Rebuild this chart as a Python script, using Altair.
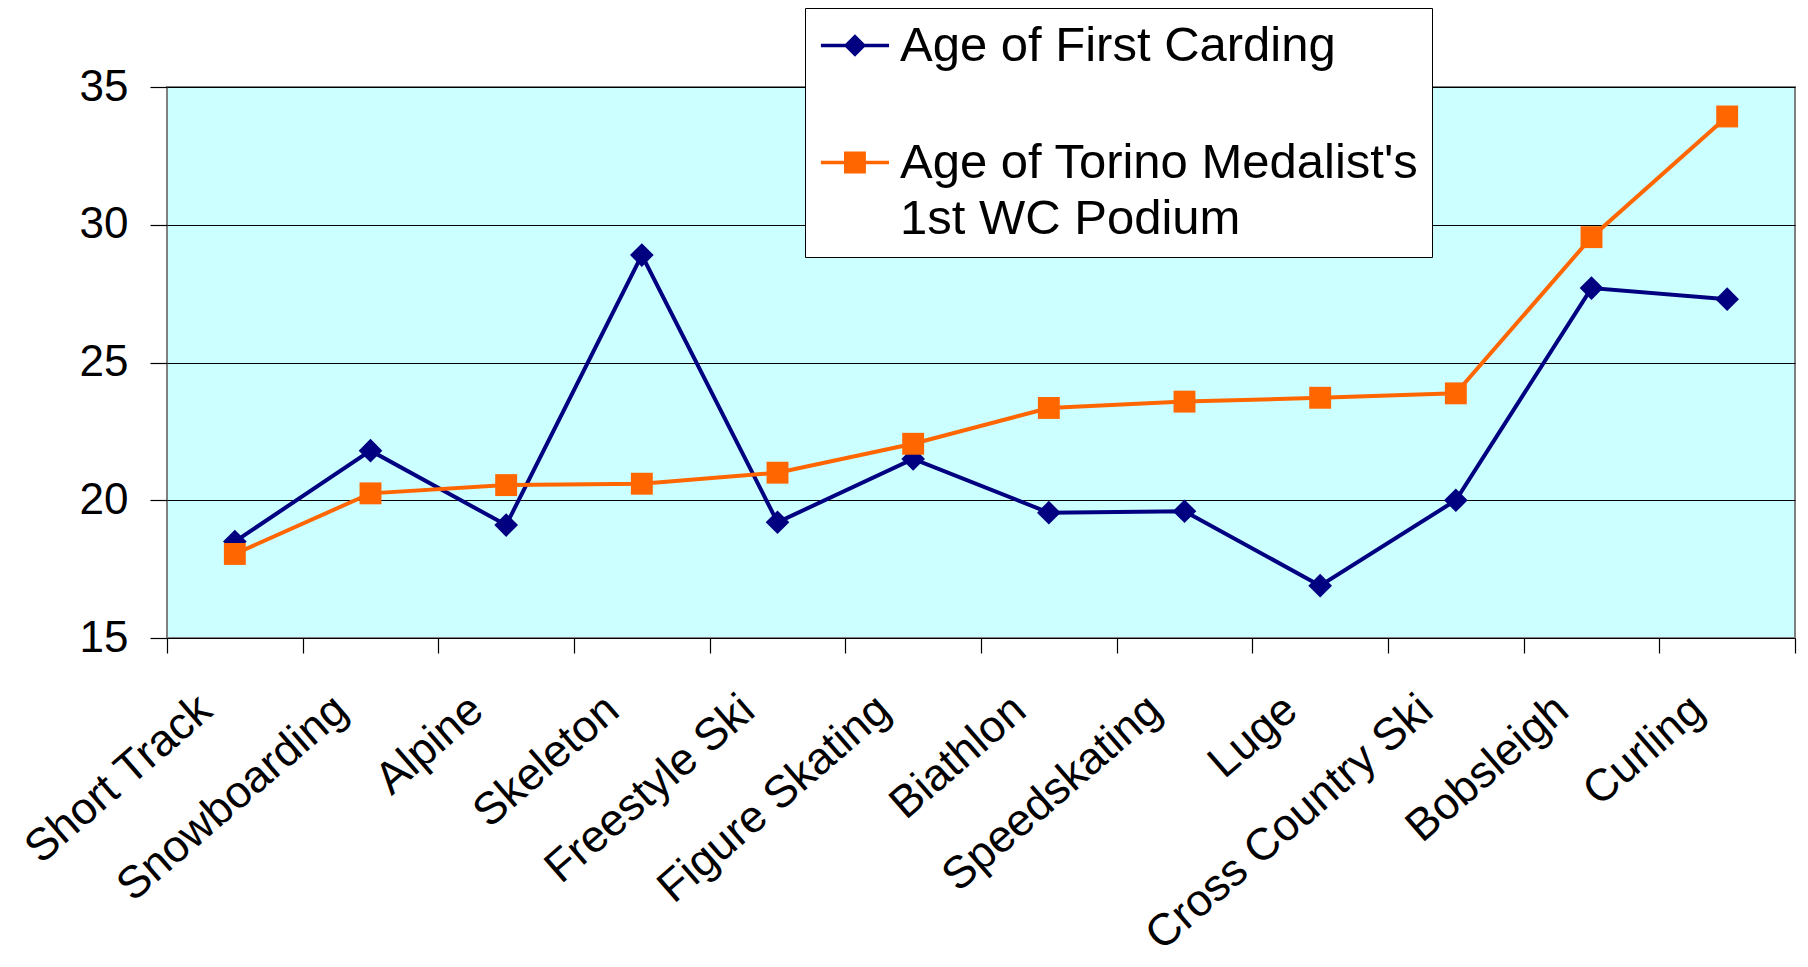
import altair as alt
import pandas as pd

sports = ["Short Track", "Snowboarding", "Alpine", "Skeleton", "Freestyle Ski",
          "Figure Skating", "Biathlon", "Speedskating", "Luge", "Cross Country Ski",
          "Bobsleigh", "Curling"]
first_carding = [18.5, 21.8, 19.1, 28.9, 19.2, 21.5, 19.55, 19.6, 16.9, 20.0, 27.7, 27.3]
torino_podium = [18.05, 20.25, 20.55, 20.6, 21.0, 22.05, 23.35, 23.58, 23.72, 23.88, 29.55, 33.93]

series_names = ["Age of First Carding", "Age of Torino Medalist's|1st WC Podium"]
series_colors = ["#000080", "#FF6600"]

rows = []
for s, v in zip(sports, first_carding):
    rows.append({"sport": s, "series": series_names[0], "value": v})
for s, v in zip(sports, torino_podium):
    rows.append({"sport": s, "series": series_names[1], "value": v})
df = pd.DataFrame(rows)

FONT = "Liberation Sans"

x_enc = alt.X(
    "sport:N", sort=sports, title=None,
    scale=alt.Scale(type="band", paddingInner=0, paddingOuter=0),
    axis=alt.Axis(
        tickBand="extent", labelAngle=-41, labelAlign="right", labelBaseline="middle",
        labelFontSize=45, labelFont=FONT, labelColor="black", labelPadding=50,
        labelOffset=-30,
        tickSize=15, tickColor="black", tickWidth=1.2, domain=False, grid=False,
        labelLimit=0,
    ),
)
y_enc = alt.Y(
    "value:Q", title=None,
    scale=alt.Scale(domain=[15, 35], nice=False, zero=False),
    axis=alt.Axis(
        values=[15, 20, 25, 30, 35], labelFontSize=44, labelFont=FONT, labelColor="black",
        tickSize=17, tickColor="black", tickWidth=1.2, labelPadding=22, domain=False,
        grid=True, gridColor="black", gridWidth=1,
    ),
)
color_scale = alt.Scale(domain=series_names, range=series_colors)

# legend symbols: line segment plus marker, drawn off-centre (unit = 15 px)
sym_diamond = ("M-1.44,-0.11L3.1,-0.11L3.1,0.11L-1.44,0.11Z "
               "M0.83,-0.75L1.58,0L0.83,0.75L0.08,0Z")
sym_square = ("M-1.44,-0.11L3.1,-0.11L3.1,0.11L-1.44,0.11Z "
              "M0.1,-0.73L1.56,-0.73L1.56,0.73L0.1,0.73Z")

legend = alt.Legend(
    title=None, orient="none", legendX=638, legendY=-79,
    strokeColor="black", fillColor="white", padding=13,
    labelFontSize=49, labelFont=FONT, labelColor="black", labelLimit=0,
    labelOffset=33, rowPadding=67, symbolSize=900, symbolStrokeWidth=0,
    symbolOpacity=1, labelExpr="split(datum.label, '|')", cornerRadius=0,
)
color_enc = alt.Color("series:N", scale=color_scale, legend=legend)

base = alt.Chart(df)

legend_layer = base.transform_filter("false").mark_point(filled=True, opacity=1).encode(
    x=x_enc, y=y_enc,
    color=color_enc,
    shape=alt.Shape("series:N", scale=alt.Scale(domain=series_names, range=[sym_diamond, sym_square]),
                    legend=legend),
)

lines = base.mark_line(strokeWidth=4).encode(x=x_enc, y=y_enc, color=color_enc)

diamonds = base.transform_filter(alt.datum.series == series_names[0]).mark_point(
    shape="diamond", filled=True, size=560, opacity=1
).encode(x=x_enc, y=y_enc, color=color_enc)

squares = base.transform_filter(alt.datum.series == series_names[1]).mark_point(
    shape="square", filled=True, size=480, opacity=1
).encode(x=x_enc, y=y_enc, color=color_enc)

chart = alt.layer(legend_layer, lines, diamonds, squares).properties(
    width=1628, height=551,
    background="white",
    autosize=alt.AutoSizeParams(type="none"),
    padding={"left": 159, "top": 79, "right": 5, "bottom": 321},
).configure(
    style={"guide-label": {"lineHeight": 56}}
).configure_view(
    fill="#CCFFFF", stroke="#808080", strokeWidth=2
)

chart.save("out.html", embed_options={"renderer": "svg", "actions": False})
